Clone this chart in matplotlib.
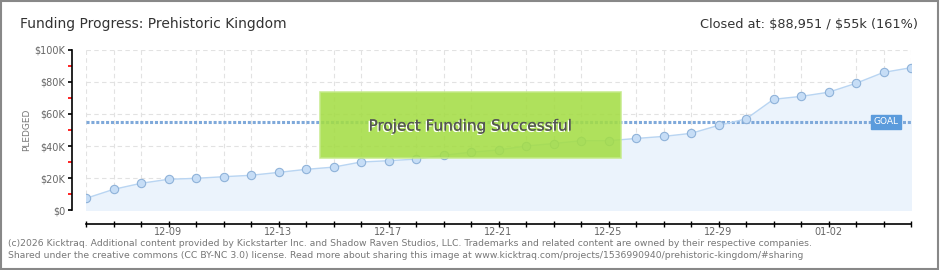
import numpy as np
import matplotlib
matplotlib.use("Agg")
import matplotlib.pyplot as plt
import matplotlib.patheffects as pe
from matplotlib.patches import Rectangle
from matplotlib.ticker import FuncFormatter, MultipleLocator

# daily pledged totals, 12-06 .. 01-05 (in $)
dates = ["12-06", "12-07", "12-08", "12-09", "12-10", "12-11", "12-12", "12-13",
         "12-14", "12-15", "12-16", "12-17", "12-18", "12-19", "12-20", "12-21",
         "12-22", "12-23", "12-24", "12-25", "12-26", "12-27", "12-28", "12-29",
         "12-30", "12-31", "01-01", "01-02", "01-03", "01-04", "01-05"]
pledged = [7300, 12900, 16700, 19200, 19800, 20800, 21700, 23500,
           25400, 26800, 30000, 30800, 31800, 34200, 36100, 37500,
           40000, 41500, 43300, 43300, 44700, 46000, 47900, 52900,
           56900, 69200, 71000, 73600, 79200, 86000, 88951]
goal = 55000
label_dates = ["12-09", "12-13", "12-17", "12-21", "12-25", "12-29", "01-02"]

fig = plt.figure(figsize=(9.4, 2.7), dpi=100)
W, H = 940, 270

def fx(px):
    return px / W

def fy(py):
    return 1 - py / H

ax = fig.add_axes([fx(86), fy(210), fx(911) - fx(86), fy(50) - fy(210)])
x = np.arange(len(pledged))

ax.fill_between(x, pledged, 0, color="#ebf3fc", zorder=1)
ax.plot(x, pledged, color="#b9d5f2", lw=1, zorder=3)
ax.plot(x, pledged, "o", ms=6.0, mfc="#c6ddf6", mec="#8fb2d9", mew=0.8, zorder=4)
ax.axhline(goal, color="#7fa9da", lw=2.2, ls=(0, (1.0, 0.6)), zorder=2)

ax.set_xlim(0, len(pledged) - 1)
ax.set_ylim(0, 100000)

# ticks and grid
ax.set_xticks(x, minor=True)
ax.set_xticks([dates.index(d) for d in label_dates])
ax.set_xticklabels(label_dates)
ax.yaxis.set_major_locator(MultipleLocator(20000))
ax.yaxis.set_minor_locator(MultipleLocator(10000))
ax.yaxis.set_major_formatter(FuncFormatter(lambda v, p: "\\$0" if v == 0 else "\\$%dK" % (v / 1000)))
ax.grid(True, which="major", axis="y", color="#e2e2e2", ls=(0, (4, 3)), lw=0.8, zorder=0)
ax.grid(True, which="minor", axis="x", color="#e2e2e2", ls=(0, (4, 3)), lw=0.8, zorder=0)
ax.set_axisbelow(True)

for s in ["top", "right"]:
    ax.spines[s].set_visible(False)
ax.spines["left"].set_position(("outward", 10))
ax.spines["bottom"].set_position(("outward", 10))
ax.spines["left"].set_linewidth(1.2)
ax.spines["bottom"].set_linewidth(1.2)

ax.tick_params(axis="y", which="major", length=3, width=1.2, color="black",
               labelsize=7, labelcolor="#666666", pad=2)
ax.tick_params(axis="y", which="minor", length=3, width=1.2, color="red")
ax.tick_params(axis="x", which="both", direction="inout", length=5, width=1,
               color="black", labelsize=7, labelcolor="#666666", pad=0)

fig.text(fx(27), fy(130), "PLEDGED", rotation=90, fontsize=6.5, color="#777777",
         ha="center", va="center")

# success box
box_x0 = (320 - 86) / (911 - 86) * (len(pledged) - 1)
box_x1 = (621 - 86) / (911 - 86) * (len(pledged) - 1)
ax.add_patch(Rectangle((box_x0, 32500), box_x1 - box_x0, 73500 - 32500,
                       facecolor="#a4dd45", edgecolor="#c4ea88", lw=1.2,
                       alpha=0.88, zorder=5))
ax.text((box_x0 + box_x1) / 2, 52500, "Project Funding Successful",
        ha="center", va="center", fontsize=11, color="#555555", zorder=6,
        path_effects=[pe.withSimplePatchShadow(offset=(-1, -1), shadow_rgbFace="white", alpha=1),
                      pe.Normal()])

# goal tag
ax.text(len(pledged) - 1.9, goal, "GOAL", ha="center", va="center", fontsize=6.5,
        color="white", zorder=6,
        bbox=dict(boxstyle="square,pad=0.25", fc="#5b9bdc", ec="#5b9bdc"))

# header text
fig.text(fx(20), fy(24), "Funding Progress: Prehistoric Kingdom", fontsize=10,
         color="#333333", va="center", ha="left")
fig.text(fx(918), fy(24), "Closed at: \\$88,951 / \\$55k (161%)", fontsize=9.3,
         color="#333333", va="center", ha="right")

# footer
fig.text(fx(8), fy(243), "(c)2026 Kicktraq. Additional content provided by Kickstarter Inc. and Shadow Raven Studios, LLC. "
         "Trademarks and related content are owned by their respective companies.",
         fontsize=6.65, color="#777777", va="center", ha="left")
fig.text(fx(8), fy(255), "Shared under the creative commons (CC BY-NC 3.0) license. Read more about sharing this image at "
         "www.kicktraq.com/projects/1536990940/prehistoric-kingdom/#sharing",
         fontsize=6.65, color="#777777", va="center", ha="left")

# outer border
fig.patches.append(Rectangle((0.001, 0.002), 0.997, 0.995, transform=fig.transFigure,
                             fill=False, ec="#888888", lw=1.5))

fig.savefig("out.png", dpi=100)
